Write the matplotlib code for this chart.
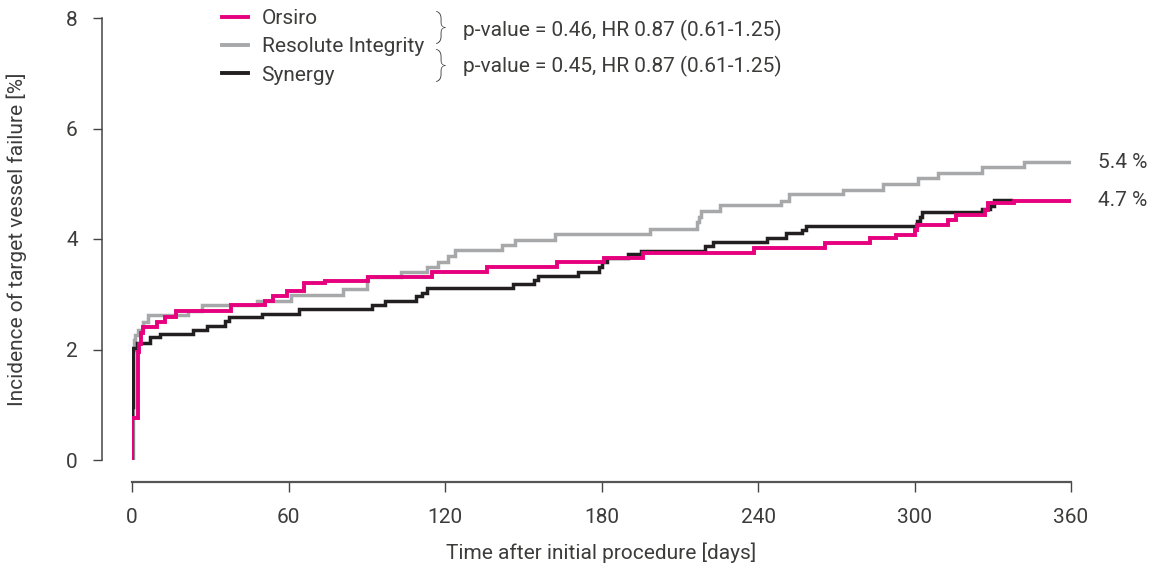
import matplotlib
matplotlib.use('Agg')
import matplotlib.pyplot as plt
from matplotlib.lines import Line2D

plt.rcParams['font.family'] = ['Roboto', 'DejaVu Sans']

# step data (days, cumulative incidence %)
orsiro_days = [0, 0.05, 2.2, 2.5, 3.3, 4.2, 9.5, 12.6, 17, 38, 51, 54, 59.5, 66, 74,
               90.5, 115, 136, 163, 181, 196, 238.5, 265.7, 283, 293, 300, 301,
               313, 316, 327, 328, 338, 360]
orsiro_vals = [0, 0.76, 1.95, 2.1, 2.3, 2.41, 2.5, 2.59, 2.7, 2.8, 2.88, 2.97, 3.06,
               3.2, 3.24, 3.32, 3.40, 3.5, 3.58, 3.66, 3.75, 3.83, 3.92, 4.01, 4.08,
               4.17, 4.25, 4.34, 4.43, 4.52, 4.65, 4.69, 4.69]

resolute_days = [0, 0.2, 0.8, 1.2, 2.4, 4.3, 6.3, 21.5, 26.7, 48, 61, 81, 90, 103,
                 113, 117.5, 121, 124, 142, 147, 162, 198.6, 216.5, 217.2, 218,
                 225.5, 248.7, 251.7, 272.5, 288, 301.5, 309, 326, 342, 360]
resolute_vals = [0, 2.0, 2.17, 2.26, 2.35, 2.5, 2.62, 2.7, 2.8, 2.88, 2.98, 3.1,
                 3.32, 3.41, 3.50, 3.59, 3.69, 3.80, 3.89, 3.99, 4.09, 4.18, 4.30,
                 4.40, 4.51, 4.62, 4.69, 4.81, 4.89, 5.0, 5.1, 5.2, 5.3, 5.39, 5.39]

synergy_days = [0, 0.05, 0.5, 1.8, 7, 10.7, 23.5, 28.6, 35.7, 37, 50, 64, 92, 97,
                109, 111, 113, 146, 154, 155.7, 171, 179, 180, 182, 190, 195,
                219.7, 222.6, 243.6, 250.8, 256.8, 258.4, 301, 302, 303, 326, 329,
                330.5, 337]
synergy_vals = [0, 0.96, 2.03, 2.12, 2.22, 2.28, 2.35, 2.43, 2.52, 2.58, 2.65, 2.73,
                2.80, 2.87, 2.96, 3.03, 3.11, 3.18, 3.26, 3.33, 3.41, 3.50, 3.58,
                3.66, 3.72, 3.78, 3.87, 3.95, 4.02, 4.10, 4.16, 4.24, 4.32, 4.40,
                4.49, 4.55, 4.60, 4.70, 4.70]

x_ticks = [0, 60, 120, 180, 240, 300, 360]
y_ticks = [0, 2, 4, 6, 8]
end_labels = ['5.4 %', '4.7 %']
p_texts = ['p-value = 0.46, HR 0.87 (0.61-1.25)',
           'p-value = 0.45, HR 0.87 (0.61-1.25)']

MAGENTA = '#e6007e'
GREY = '#a7a8aa'
BLACK = '#231f20'
TXT = '#3c3c3b'
FS = 15

fig = plt.figure(figsize=(11.52, 5.69), dpi=100)
ax = fig.add_axes([132 / 1152, 109 / 569, 939 / 1152, 442 / 569])

ax.step(resolute_days, resolute_vals, where='post', color=GREY, lw=2.5,
        solid_joinstyle='miter', zorder=2)
ax.step(synergy_days, synergy_vals, where='post', color=BLACK, lw=2.5,
        solid_joinstyle='miter', zorder=3)
ax.step(orsiro_days, orsiro_vals, where='post', color=MAGENTA, lw=2.8,
        solid_joinstyle='miter', zorder=4)

ax.set_xlim(0, 360)
ax.set_ylim(0, 8)
ax.set_xticks(x_ticks)
ax.set_yticks(y_ticks)

for s in ['top', 'right']:
    ax.spines[s].set_visible(False)
ax.spines['left'].set_position(('outward', 21.6))
ax.spines['bottom'].set_position(('outward', 15.8))
ax.spines['left'].set_color('#444444')
ax.spines['left'].set_linewidth(1.1)
ax.spines['bottom'].set_color('#555555')
ax.spines['bottom'].set_linewidth(1.6)
ax.tick_params(axis='y', length=6.5, width=1.0, color='#444444', pad=11,
               labelsize=FS, labelcolor=TXT)
ax.tick_params(axis='x', length=7, width=1.0, color='#444444', pad=12,
               labelsize=FS, labelcolor=TXT)

ax.set_xlabel('Time after initial procedure [days]', fontsize=FS, color=TXT)
ax.set_ylabel('Incidence of target vessel failure [%]', fontsize=FS, color=TXT)
ax.xaxis.set_label_coords(0.5, -0.186)
ax.yaxis.set_label_coords(-0.1118, 0.5)

# end-of-curve percentages
ax.text(370.4, resolute_vals[-1], end_labels[0], fontsize=FS, color=TXT,
        va='center', ha='left', clip_on=False)
ax.text(370.4, orsiro_vals[-1], end_labels[1], fontsize=FS, color=TXT,
        va='center', ha='left', clip_on=False)

handles = [Line2D([], [], color=MAGENTA, lw=2.8),
           Line2D([], [], color=GREY, lw=2.8),
           Line2D([], [], color=BLACK, lw=2.8)]
leg = fig.legend(handles, ['Orsiro', 'Resolute Integrity', 'Synergy'],
                 loc='upper left', bbox_to_anchor=(222 / 1152, 1 - 9 / 569),
                 frameon=False, fontsize=FS, handlelength=1.25, handletextpad=0.65,
                 labelspacing=0.45, borderaxespad=0, borderpad=0)
for t in leg.get_texts():
    t.set_color(TXT)

for yy in [27, 65]:
    fig.text(441 / 1152, 1 - yy / 569, '}', fontsize=24, color=TXT,
             ha='center', va='center', fontweight='light')
fig.text(463 / 1152, 1 - 30 / 569, p_texts[0], fontsize=FS, color=TXT,
         va='center', ha='left')
fig.text(463 / 1152, 1 - 66 / 569, p_texts[1], fontsize=FS, color=TXT,
         va='center', ha='left')

fig.savefig('out.png', dpi=100)
